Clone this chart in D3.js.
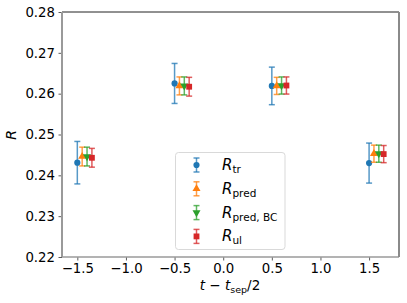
<!DOCTYPE html>
<html>
<head>
<meta charset="utf-8">
<style>
  body { margin: 0; background: #fff; }
  text { font-family: "DejaVu Sans", sans-serif; }
</style>
</head>
<body>
<svg id="chart"></svg>
<script src="https://cdnjs.cloudflare.com/ajax/libs/d3/7.8.5/d3.min.js"></script>
<script>
  // positions along t - t_sep/2
  var times = [-1.5, -0.5, 0.5, 1.5];

  // values and error bars per series
  var rTr       = [0.2431, 0.2625, 0.2619, 0.2430],
      rTrErr    = [0.0052, 0.0049, 0.0046, 0.0049],
      rPred     = [0.2446, 0.2619, 0.2619, 0.2453],
      rPredErr  = [0.0023, 0.0022, 0.0021, 0.0021],
      rPredBC   = [0.2446, 0.2619, 0.2620, 0.2453],
      rPredBCErr= [0.0023, 0.0022, 0.0021, 0.0021],
      rUl       = [0.2443, 0.2617, 0.2620, 0.2452],
      rUlErr    = [0.0023, 0.0023, 0.0021, 0.0021];

  var xTicks = [-1.5, -1.0, -0.5, 0.0, 0.5, 1.0, 1.5],
      yTicks = [0.22, 0.23, 0.24, 0.25, 0.26, 0.27, 0.28];

  var series = [
    { name: "tr",       vals: rTr,     errs: rTrErr,     shift: 0.00, color: "#1f77b4", marker: "circle" },
    { name: "pred",     vals: rPred,   errs: rPredErr,   shift: 0.05, color: "#ff7f0e", marker: "up" },
    { name: "pred, BC", vals: rPredBC, errs: rPredBCErr, shift: 0.10, color: "#2ca02c", marker: "down" },
    { name: "ul",       vals: rUl,     errs: rUlErr,     shift: 0.15, color: "#d62728", marker: "square" }
  ];

  var width = 407, height = 303,
      mLeft = 62, mRight = 399, mTop = 12, mBottom = 257;

  var svg = d3.select("#chart").attr("width", width).attr("height", height);

  var x = d3.scaleLinear().domain([-1.6575, 1.8075]).range([mLeft, mRight]);
  var y = d3.scaleLinear().domain([0.22, 0.28]).range([mBottom, mTop]);

  var fmt = function(d) { return d3.format(".1f")(d).replace("-", "\u2212"); };

  // axes
  var xAxis = svg.append("g").attr("transform", "translate(0," + mBottom + ")")
      .call(d3.axisBottom(x).tickValues(xTicks).tickFormat(fmt).tickSizeOuter(0).tickSize(3.5).tickPadding(3.5));
  var yAxis = svg.append("g").attr("transform", "translate(" + mLeft + ",0)")
      .call(d3.axisLeft(y).tickValues(yTicks).tickFormat(d3.format(".2f")).tickSizeOuter(0).tickSize(3.5).tickPadding(3.5));
  [xAxis, yAxis].forEach(function(a) {
    a.select(".domain").remove();
    a.selectAll("line").attr("stroke", "#333").attr("stroke-width", 0.8);
    a.selectAll("text").attr("font-size", 13.3).attr("fill", "#000").attr("font-family", "DejaVu Sans");
  });

  // spines
  svg.append("line").attr("x1", mLeft).attr("x2", mRight).attr("y1", mTop).attr("y2", mTop)
     .attr("stroke", "#222").attr("stroke-width", 1);
  svg.append("line").attr("x1", mLeft).attr("x2", mRight).attr("y1", mBottom).attr("y2", mBottom)
     .attr("stroke", "#9a9a9a").attr("stroke-width", 1.6);
  svg.append("line").attr("x1", mLeft).attr("x2", mLeft).attr("y1", mTop).attr("y2", mBottom)
     .attr("stroke", "#9a9a9a").attr("stroke-width", 2);
  svg.append("line").attr("x1", mRight).attr("x2", mRight).attr("y1", mTop).attr("y2", mBottom)
     .attr("stroke", "#8a8a8a").attr("stroke-width", 2);

  var symbols = {
    circle: d3.symbol().type(d3.symbolCircle).size(30),
    up:     d3.symbol().type(d3.symbolTriangle).size(28),
    down:   d3.symbol().type(d3.symbolTriangle).size(28),
    square: d3.symbol().type(d3.symbolSquare).size(34)
  };

  function drawErr(g, cx, yTop, yBot, color) {
    g.append("line").attr("x1", cx).attr("x2", cx).attr("y1", yTop).attr("y2", yBot)
     .attr("stroke", color).attr("stroke-width", 1.5).attr("stroke-opacity", 0.75);
    [yTop, yBot].forEach(function(yy) {
      g.append("line").attr("x1", cx - 3).attr("x2", cx + 3).attr("y1", yy).attr("y2", yy)
       .attr("stroke", color).attr("stroke-width", 1.5).attr("stroke-opacity", 0.75);
    });
  }

  function drawMarker(g, cx, cy, s) {
    g.append("path").attr("d", symbols[s.marker]())
     .attr("transform", "translate(" + cx + "," + cy + ")" + (s.marker === "down" ? " rotate(180)" : ""))
     .attr("fill", s.color);
  }

  var plot = svg.append("g");
  series.forEach(function(s) {
    var g = plot.append("g");
    times.forEach(function(t, i) {
      var cx = x(t + s.shift);
      drawErr(g, cx, y(s.vals[i] + s.errs[i]), y(s.vals[i] - s.errs[i]), s.color);
      drawMarker(g, cx, y(s.vals[i]), s);
    });
  });

  // legend
  var lg = svg.append("g");
  lg.append("rect").attr("x", 175.5).attr("y", 152.5).attr("width", 109.5).attr("height", 97)
    .attr("rx", 3).attr("fill", "#fff").attr("fill-opacity", 0.8)
    .attr("stroke", "#d9d9d9").attr("stroke-width", 1);
  series.forEach(function(s, i) {
    var cy = 165 + i * 23.8, cx = 196.5;
    drawErr(lg, cx, cy - 7, cy + 7, s.color);
    drawMarker(lg, cx, cy, s);
    var t = lg.append("text").attr("x", 222).attr("y", cy + 5).attr("font-size", 15).attr("fill", "#000");
    t.append("tspan").attr("font-style", "italic").text("R");
    t.append("tspan").attr("font-size", 10.5).attr("dy", 3).text(s.name);
  });

  // axis labels
  var xl = svg.append("text").attr("x", 230).attr("y", 290).attr("text-anchor", "middle")
     .attr("font-size", 13.5).attr("fill", "#000");
  xl.append("tspan").attr("font-style", "italic").text("t");
  xl.append("tspan").text(" \u2212 ");
  xl.append("tspan").attr("font-style", "italic").text("t");
  xl.append("tspan").attr("font-size", 9.5).attr("dy", 3).text("sep");
  xl.append("tspan").attr("dy", -3).text("/2");

  svg.append("text").attr("transform", "translate(16,135) rotate(-90)")
     .attr("text-anchor", "middle").attr("font-size", 14).attr("font-style", "italic").text("R");
</script>
</body>
</html>
